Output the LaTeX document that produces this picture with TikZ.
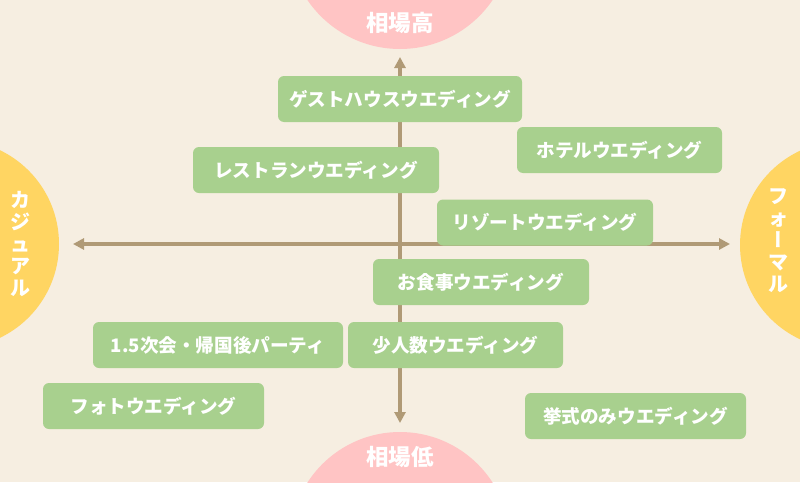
\documentclass[tikz,border=0pt]{standalone}
\usepackage{fontspec}
\newfontfamily\jpfont{Noto Sans CJK JP}
\newfontfamily\jpvert[RawFeature=+vert]{Noto Sans CJK JP}
\usetikzlibrary{positioning,arrows.meta}
\definecolor{bgcream}{HTML}{F6EEE1}
\definecolor{pricepink}{HTML}{FFC4C4}
\definecolor{styleyellow}{HTML}{FFD562}
\definecolor{plangreen}{HTML}{A8D08E}
\definecolor{axisbrown}{HTML}{B09A76}

\begin{document}
\begin{tikzpicture}[x=1pt, y=-1pt,
  plan/.style={fill=plangreen, rounded corners=6pt, text=white, inner sep=0pt,
    minimum height=46pt, font=\jpfont\bfseries\fontsize{18.6}{18.6}\selectfont},
  poletext/.style={text=white, font=\jpfont\bfseries\fontsize{22.5}{22.5}\selectfont},
  sidetext/.style={text=white, align=center, inner sep=0pt,
    font=\jpfont\bfseries\fontsize{20}{22}\selectfont},
  axis/.style={{Triangle[length=11pt,width=11pt]}-{Triangle[length=11pt,width=11pt]},
    line width=3.5pt, draw=axisbrown}
]
\useasboundingbox (0,0) rectangle (800,482);
\fill[bgcream] (0,0) rectangle (800,482);
\clip (0,0) rectangle (800,482);

% poles
\fill[pricepink] (400,-63) circle (112);
\fill[pricepink] (400,542) circle (110);
\fill[styleyellow] (-45,244) circle (104);
\fill[styleyellow] (844,245) circle (104);
\node[poletext] (high) at (400,23) {相場高};
\node[poletext] (low) at (400,457) {相場低};
\node[sidetext] (casual) at (20,244) {カ\\ジ\\ュ\\ア\\ル};
\node[sidetext] (formal) at (778,241) {フ\\ォ\\{\jpvert ー}\\マ\\ル};

% axes
\coordinate (ytop) at (400,57);
\coordinate (ybot) at (400,423);
\coordinate (xleft) at (73,244);
\coordinate (xright) at (730,244);
\draw[axis] (ybot) -- (ytop);
\draw[axis] (xleft) -- (xright);

% plans
\node[plan, minimum width=244pt] (guesthouse) at (400,99) {ゲストハウスウエディング};
\node[plan, minimum width=205pt] (hotel) at (619.5,150) {ホテルウエディング};
\node[plan, minimum width=246pt] (restaurant) at (316,170) {レストランウエディング};
\node[plan, minimum width=216pt] (resort) at (545,222.5) {リゾートウエディング};
\node[plan, minimum width=216pt] (dinner) at (481,282) {お食事ウエディング};
\node[plan, minimum width=250pt] (party) at (218,345) {1.5次会・帰国後パーティ};
\node[plan, minimum width=215pt] (small) at (455.5,345) {少人数ウエディング};
\node[plan, minimum width=221pt] (photo) at (153.5,406) {フォトウエディング};
\node[plan, minimum width=221pt] (ceremony) at (635.5,416) {挙式のみウエディング};
\end{tikzpicture}
\end{document}
